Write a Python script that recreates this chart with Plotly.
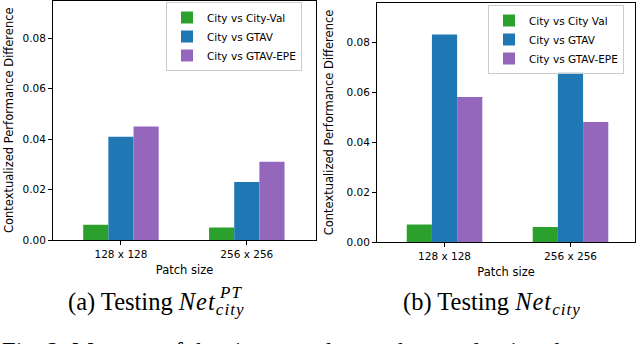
import plotly.graph_objects as go

# ---- data ----
patch_sizes = ["128 x 128", "256 x 256"]
series_names_a = ["City vs City-Val", "City vs GTAV", "City vs GTAV-EPE"]
series_names_b = ["City vs City Val", "City vs GTAV", "City vs GTAV-EPE"]
vals_a_city_val = [0.006, 0.005]
vals_a_gtav = [0.041, 0.023]
vals_a_gtav_epe = [0.045, 0.031]
vals_b_city_val = [0.007, 0.006]
vals_b_gtav = [0.083, 0.068]
vals_b_gtav_epe = [0.058, 0.048]
y_ticks = [0.00, 0.02, 0.04, 0.06, 0.08]
colors = ["#2ca02c", "#1f77b4", "#9467bd"]

W, H = 640, 344
def px_x(p):
    return p / W
def px_y(p):
    return 1 - p / H

fig = go.Figure()

tick_font = dict(family="DejaVu Sans", size=10.5, color="#000000")
title_font = dict(family="DejaVu Sans", size=11.5, color="#000000")

for name, vals, col in zip(series_names_a, [vals_a_city_val, vals_a_gtav, vals_a_gtav_epe], colors):
    fig.add_trace(go.Bar(x=patch_sizes, y=vals, name=name, marker=dict(color=col, line=dict(width=0)),
                         xaxis="x", yaxis="y", legend="legend"))
for name, vals, col in zip(series_names_b, [vals_b_city_val, vals_b_gtav, vals_b_gtav_epe], colors):
    fig.add_trace(go.Bar(x=patch_sizes, y=vals, name=name, marker=dict(color=col, line=dict(width=0)),
                         xaxis="x2", yaxis="y2", legend="legend2"))

axis_common = dict(showline=True, mirror=True, linecolor="black", linewidth=1, ticks="outside",
                   ticklen=4, tickcolor="black", tickwidth=1, showgrid=False, zeroline=False,
                   tickfont=tick_font, automargin=False)

fig.update_layout(
    template="none",
    width=W, height=H, margin=dict(l=0, r=0, t=0, b=0),
    paper_bgcolor="white", plot_bgcolor="white",
    barmode="group", bargap=0.4, bargroupgap=0,
    xaxis=dict(domain=[px_x(53), px_x(316)], range=[-0.54, 1.55], anchor="y",
               title=dict(text="Patch size", font=title_font, standoff=7), **axis_common),
    yaxis=dict(domain=[px_y(240), px_y(0.5)], range=[0, 0.095], anchor="x",
               tickvals=y_ticks, tickformat=".2f",
               title=dict(text="Contextualized Performance Difference", font=title_font, standoff=6),
               **axis_common),
    xaxis2=dict(domain=[px_x(377), px_x(635)], range=[-0.536, 1.512], anchor="y2",
                title=dict(text="Patch size", font=title_font, standoff=7), **axis_common),
    yaxis2=dict(domain=[px_y(242), px_y(3)], range=[0, 0.0956], anchor="x2",
                tickvals=y_ticks, tickformat=".2f",
                title=dict(text="Contextualized Performance Difference", font=title_font, standoff=10),
                **axis_common),
    legend=dict(x=px_x(166), y=px_y(2), xanchor="left", yanchor="top", bgcolor="rgba(255,255,255,0.8)",
                bordercolor="#cccccc", borderwidth=1, font=tick_font, itemwidth=30,
                traceorder="normal", tracegroupgap=0),
    legend2=dict(x=px_x(488), y=px_y(5), xanchor="left", yanchor="top", bgcolor="rgba(255,255,255,0.8)",
                 bordercolor="#cccccc", borderwidth=1, font=tick_font, itemwidth=30,
                 traceorder="normal", tracegroupgap=0),
)

serif = "Liberation Serif"
cap_font = dict(family=serif, size=24.5, color="black")
net_city = ('<span style="letter-spacing:1px"><i>Net</i><sub><i>city</i></sub></span>')
fig.add_annotation(xref="paper", yref="paper", x=px_x(66), y=px_y(303), xanchor="left", yanchor="middle",
                   text="(a) Testing " + net_city, showarrow=False, font=cap_font)
fig.add_annotation(xref="paper", yref="paper", x=px_x(217), y=px_y(292), xanchor="left", yanchor="middle",
                   text='<i><span style="letter-spacing:1px">PT</span></i>', showarrow=False,
                   font=dict(family=serif, size=17, color="black"))
fig.add_annotation(xref="paper", yref="paper", x=px_x(401), y=px_y(303), xanchor="left", yanchor="middle",
                   text="(b) Testing " + net_city, showarrow=False, font=cap_font)
fig.add_annotation(xref="paper", yref="paper", x=px_x(0), y=px_y(351), xanchor="left", yanchor="middle",
                   text="Fig. 2: Measure of the sim-to-real gap when evaluating the", showarrow=False,
                   font=dict(family=serif, size=24.5, color="black"))

fig.write_html("out.html", config={"displayModeBar": False},
               post_script="document.body.style.margin='0';document.body.style.padding='0';"
                           "document.body.style.overflow='hidden';")
